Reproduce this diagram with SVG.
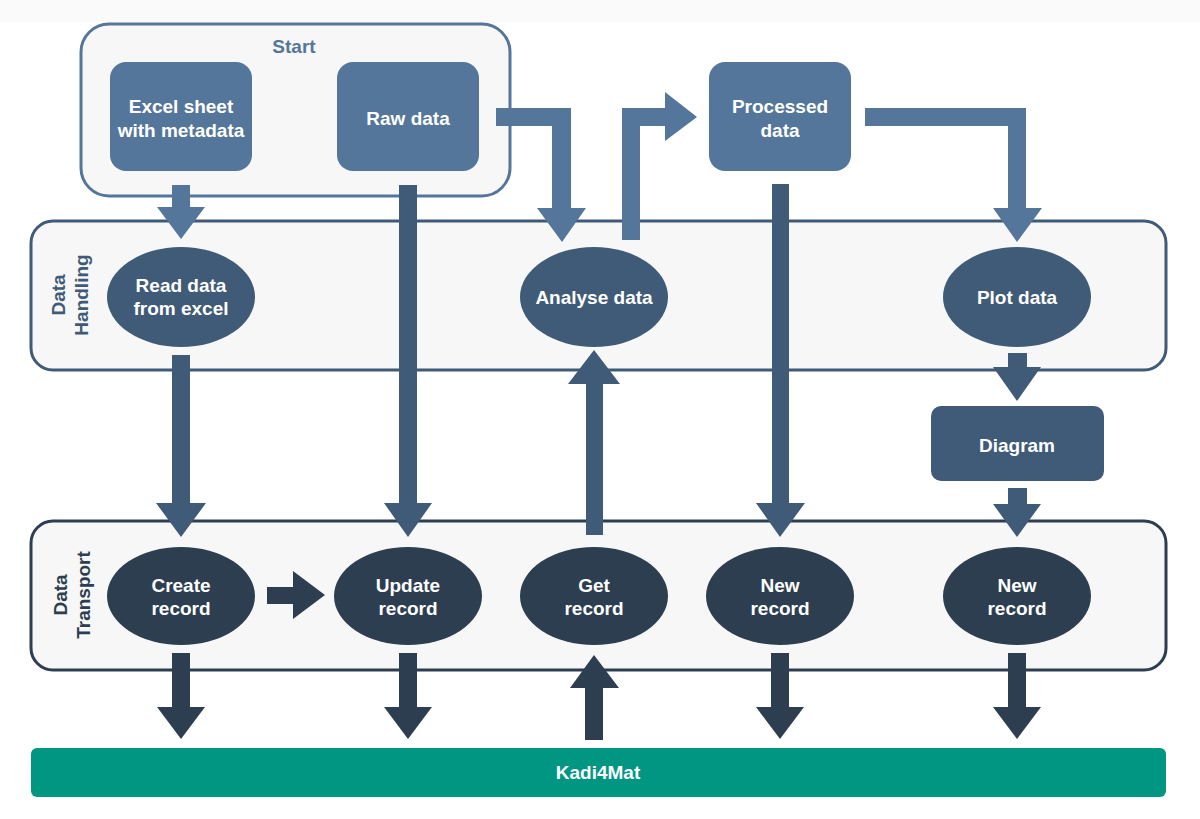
<svg xmlns="http://www.w3.org/2000/svg" width="1200" height="819" viewBox="0 0 1200 819">
<style>
  text { font-family: "Liberation Sans", Arial, sans-serif; font-weight: bold; font-size: 19px; text-anchor: middle; }
  .w { fill: #ffffff; }
  .cont { fill: #f7f7f7; stroke-width: 3; }
  .light { fill: #54769a; }
  .mid { fill: #3f5b77; }
  .dark { fill: #2d3e50; }
</style>
<rect x="0" y="0" width="1200" height="819" fill="#ffffff"/>
<rect x="0" y="0" width="1200" height="22" fill="#fafafb"/>

<g id="start-container">
  <rect class="cont" x="81" y="24" width="429" height="172" rx="28" stroke="#54769a"/>
  <text x="294" y="53" fill="#54769a">Start</text>
</g>
<g id="data-handling">
  <rect class="cont" x="31" y="221" width="1135" height="149" rx="22" stroke="#3f5b77"/>
  <text transform="translate(65,295) rotate(-90)" fill="#3f5b77">Data</text>
  <text transform="translate(88,295) rotate(-90)" fill="#3f5b77">Handling</text>
</g>
<g id="data-transport">
  <rect class="cont" x="31" y="521" width="1135" height="149" rx="22" stroke="#2d3e50"/>
  <text transform="translate(67,595) rotate(-90)" fill="#2d3e50">Data</text>
  <text transform="translate(90,595) rotate(-90)" fill="#2d3e50">Transport</text>
</g>

<g id="connectors">
  <!-- Excel -> Read data -->
  <polygon class="light" points="172,185 190,185 190,207 205,207 181,239 157,207 172,207"/>
  <!-- Raw data -> Update record -->
  <polygon class="mid" points="399,185 417,185 417,503 432,503 408,537 384,503 399,503"/>
  <!-- Raw data -> Analyse data -->
  <polygon class="light" points="496,108 571,108 571,208 586,208 562,242 537,208 552,208 552,126 496,126"/>
  <!-- Analyse data -> Processed data -->
  <polygon class="light" points="622,240 622,108 665,108 665,92 697,117 665,141 665,126 640,126 640,240"/>
  <!-- Processed data -> Plot data -->
  <polygon class="light" points="865,108 1026,108 1026,208 1042,208 1017,242 993,208 1008,208 1008,126 865,126"/>
  <!-- Processed data -> New record -->
  <polygon class="mid" points="772,184 789,184 789,503 805,503 780,537 756,503 772,503"/>
  <!-- Read data -> Create record -->
  <polygon class="mid" points="172,355 190,355 190,503 206,503 181,537 156,503 172,503"/>
  <!-- Get record -> Analyse data -->
  <polygon class="mid" points="586,535 586,384 568,384 594,350 620,384 603,384 603,535"/>
  <!-- Plot data -> Diagram -->
  <polygon class="mid" points="1008,353 1027,353 1027,367 1041,367 1017,401 993,367 1008,367"/>
  <!-- Diagram -> New record -->
  <polygon class="mid" points="1008,488 1027,488 1027,504 1041,504 1017,537 993,504 1008,504"/>
  <!-- Create record -> Update record -->
  <polygon class="dark" points="267,587 293,587 293,571 325,595 293,619 293,604 267,604"/>
  <!-- transport -> Kadi4Mat -->
  <polygon class="dark" points="172,653 190,653 190,707 205,707 181,739 157,707 172,707"/>
  <polygon class="dark" points="399,653 417,653 417,707 432,707 408,739 384,707 399,707"/>
  <polygon class="dark" points="771,653 789,653 789,707 804,707 780,739 756,707 771,707"/>
  <polygon class="dark" points="1008,653 1026,653 1026,707 1041,707 1017,739 993,707 1008,707"/>
  <!-- Kadi4Mat -> Get record -->
  <polygon class="dark" points="585,740 585,688 570,688 594,655 619,688 603,688 603,740"/>
</g>

<g id="excel-sheet">
  <rect class="light" x="110" y="62" width="142" height="109" rx="16"/>
  <text class="w" x="181" y="113">Excel sheet</text>
  <text class="w" x="181" y="137">with metadata</text>
</g>
<g id="raw-data">
  <rect class="light" x="337" y="62" width="142" height="109" rx="16"/>
  <text class="w" x="408" y="125">Raw data</text>
</g>
<g id="processed-data">
  <rect class="light" x="709" y="62" width="142" height="109" rx="16"/>
  <text class="w" x="780" y="113">Processed</text>
  <text class="w" x="780" y="137">data</text>
</g>

<g id="read-data">
  <ellipse class="mid" cx="181" cy="297" rx="74" ry="50"/>
  <text class="w" x="181" y="292">Read data</text>
  <text class="w" x="181" y="315">from excel</text>
</g>
<g id="analyse-data">
  <ellipse class="mid" cx="594" cy="297" rx="74" ry="50"/>
  <text class="w" x="594" y="304">Analyse data</text>
</g>
<g id="plot-data">
  <ellipse class="mid" cx="1017" cy="297" rx="74" ry="50"/>
  <text class="w" x="1017" y="304">Plot data</text>
</g>
<g id="diagram">
  <rect class="mid" x="931" y="406" width="173" height="75" rx="10"/>
  <text class="w" x="1017" y="452">Diagram</text>
</g>

<g id="create-record">
  <ellipse class="dark" cx="181" cy="596" rx="74" ry="49"/>
  <text class="w" x="181" y="592">Create</text>
  <text class="w" x="181" y="615">record</text>
</g>
<g id="update-record">
  <ellipse class="dark" cx="408" cy="596" rx="74" ry="49"/>
  <text class="w" x="408" y="592">Update</text>
  <text class="w" x="408" y="615">record</text>
</g>
<g id="get-record">
  <ellipse class="dark" cx="594" cy="596" rx="74" ry="49"/>
  <text class="w" x="594" y="592">Get</text>
  <text class="w" x="594" y="615">record</text>
</g>
<g id="new-record-1">
  <ellipse class="dark" cx="780" cy="596" rx="74" ry="49"/>
  <text class="w" x="780" y="592">New</text>
  <text class="w" x="780" y="615">record</text>
</g>
<g id="new-record-2">
  <ellipse class="dark" cx="1017" cy="596" rx="74" ry="49"/>
  <text class="w" x="1017" y="592">New</text>
  <text class="w" x="1017" y="615">record</text>
</g>

<g id="kadi4mat">
  <rect x="31" y="748" width="1135" height="49" rx="6" fill="#009682"/>
  <text class="w" x="598" y="779">Kadi4Mat</text>
</g>
</svg>
